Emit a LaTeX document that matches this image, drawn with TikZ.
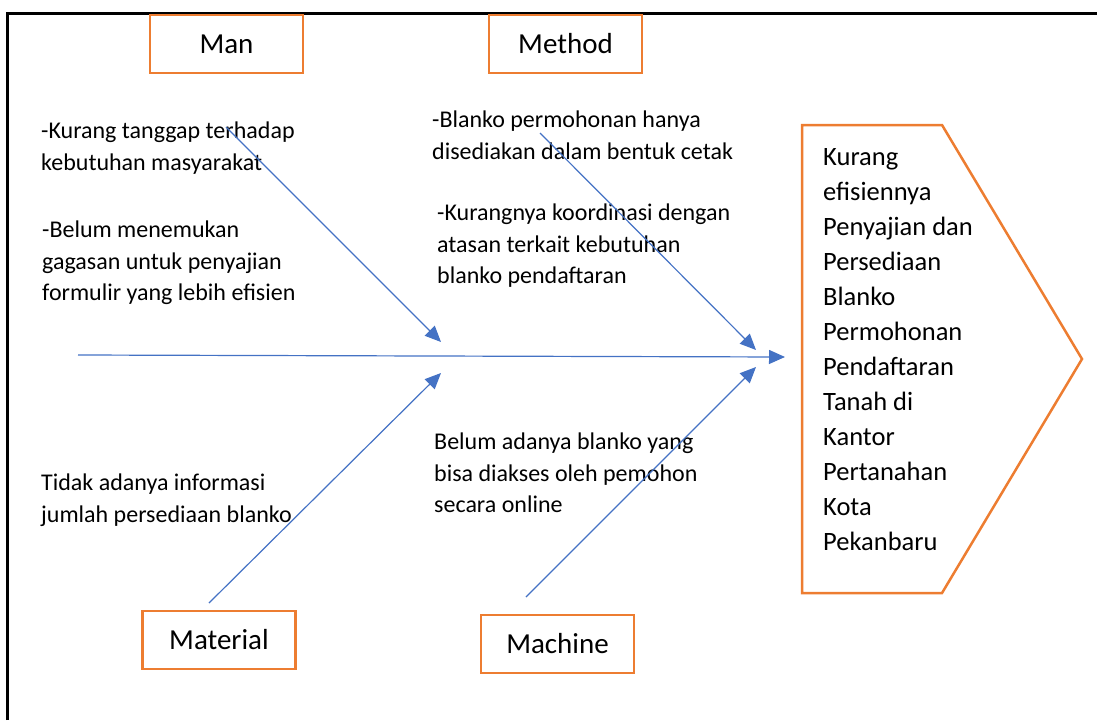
\documentclass[tikz,border=0pt]{standalone}
\usepackage{fontspec}
\setmainfont{Carlito}
\usetikzlibrary{arrows.meta}
\definecolor{fishorange}{HTML}{ED7D31}
\definecolor{fishblue}{HTML}{4472C4}
\begin{document}
\begin{tikzpicture}[x=1pt, y=-1pt,
  cat/.style={draw=fishorange, line width=2.5pt, minimum width=153pt, minimum height=58pt,
    font=\fontsize{29}{35}\selectfont},
  cause/.style={anchor=north west, align=left, inner sep=0pt,
    font=\fontsize{24}{31.5}\selectfont},
  bone/.style={draw=fishblue, line width=1.2pt, -{Triangle[length=16pt, width=14pt]}}]
  \useasboundingbox (0,0) rectangle (1097,720);
  \draw[line width=3pt] (7.5,720) -- (7.5,13) -- (1097,13);
  % categories
  \node[cat] (man) at (226.5,44) {Man};
  \node[cat] (method) at (565.5,44) {Method};
  \node[cat] (material) at (219,640) {Material};
  \node[cat] (machine) at (557.5,644) {Machine};
  % causes
  \node[cause] (c1) at (41,122) {-Kurang tanggap terhadap\\kebutuhan masyarakat};
  \node[cause] (c2) at (42,221) {-Belum menemukan\\gagasan untuk penyajian\\formulir yang lebih efisien};
  \node[cause] (c3) at (432,111) {-Blanko permohonan hanya\\disediakan dalam bentuk cetak};
  \node[cause] (c4) at (437,204) {-Kurangnya koordinasi dengan\\atasan terkait kebutuhan\\blanko pendaftaran};
  \node[cause] (c5) at (41,474) {Tidak adanya informasi\\jumlah persediaan blanko};
  \node[cause] (c6) at (434,433) {Belum adanya blanko yang\\bisa diakses oleh pemohon\\secara online};
  % effect
  \draw[draw=fishorange, line width=2.5pt] (802,125) -- (942,125) -- (1082,359) -- (942,593) -- (802,593) -- cycle;
  \node[anchor=north west, align=left, inner sep=0pt, font=\fontsize{26.5}{35}\selectfont] (eff) at (823,148)
    {Kurang\\efisiennya\\Penyajian dan\\Persediaan\\Blanko\\Permohonan\\Pendaftaran\\Tanah di\\Kantor\\Pertanahan\\Kota\\Pekanbaru};
  % bones
  \coordinate (tail) at (78,355);
  \coordinate (head) at (785,357);
  \coordinate (manS) at (226,127);
  \coordinate (manT) at (441,342);
  \coordinate (metS) at (540,133);
  \coordinate (metT) at (756,350);
  \coordinate (matS) at (209,603);
  \coordinate (matT) at (441,373);
  \coordinate (macS) at (526,597);
  \coordinate (macT) at (756,367);
  \draw[bone] (tail) -- (head);
  \draw[bone] (manS) -- (manT);
  \draw[bone] (metS) -- (metT);
  \draw[bone] (matS) -- (matT);
  \draw[bone] (macS) -- (macT);
\end{tikzpicture}
\end{document}
